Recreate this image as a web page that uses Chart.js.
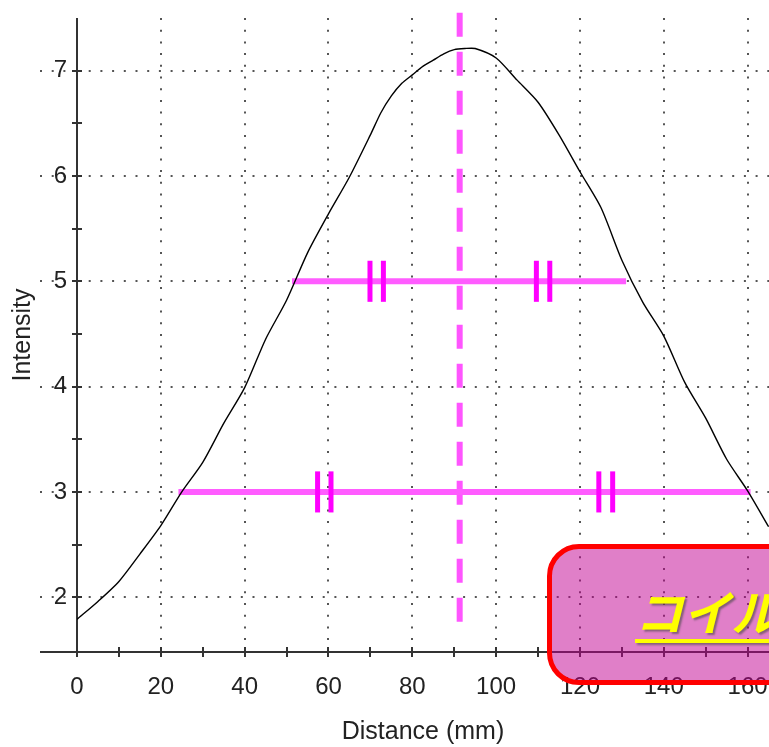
<!DOCTYPE html>
<html>
<head>
<meta charset="utf-8">
<script src="https://cdn.jsdelivr.net/npm/chart.js@4/dist/chart.umd.min.js"></script>
<style>
  html, body { margin: 0; padding: 0; background: #fff; overflow: hidden; }
  #wrap { position: relative; width: 769px; height: 747px; overflow: hidden; }
  #c { position: absolute; left: 0; top: 0; }
  #note {
    position: absolute; left: 547px; top: 544px; width: 270px; height: 141px;
    box-sizing: border-box; border: 5px solid #ff0000; border-radius: 32px;
    background: rgba(193, 0, 145, 0.5);
  }
  #note span {
    position: absolute; left: 83px; top: 37px; white-space: nowrap;
    font-family: "Noto Sans CJK JP", sans-serif; font-weight: bold; font-style: italic;
    font-size: 48px; line-height: 48px; color: #ffff00;
    text-decoration: underline; text-decoration-thickness: 4px; text-underline-offset: 8px;
    text-shadow: 2px 2px 2px rgba(70, 70, 70, 0.6);
  }
</style>
</head>
<body>
<div id="wrap">
  <canvas id="c" width="769" height="747"></canvas>
  <div id="note"><span>コイル中心</span></div>
</div>
<script>
// ---- data ----
const distance  = [0, 5, 10, 15, 20, 25, 30, 35, 40, 45, 50, 55, 60, 65, 70, 72.5, 75, 77.5, 80, 82.5, 85, 87.5, 90, 92.5, 95, 100, 105, 110, 115, 120, 125, 130, 135, 140, 145, 150, 155, 160, 165];
const intensity = [1.79, 1.96, 2.15, 2.41, 2.68, 3.00, 3.28, 3.65, 3.99, 4.45, 4.82, 5.27, 5.64, 5.99, 6.39, 6.60, 6.76, 6.88, 6.96, 7.04, 7.10, 7.16, 7.20, 7.21, 7.21, 7.12, 6.91, 6.70, 6.39, 6.04, 5.70, 5.20, 4.80, 4.48, 4.04, 3.70, 3.31, 3.01, 2.67];

const centerX = 91.3;               // dashed centre line
const centerYRange = [7.55, 1.65];

const widthLevels = [5, 3];          // intensity levels of the width bars
const widthStart  = [51.3, 24.2];
const widthEnd    = [131.0, 160.7];
const markersAt5  = [69.9, 73.1, 109.6, 112.8];
const markersAt3  = [57.4, 60.6, 124.5, 127.8];
const markerHalf  = 0.195;

const xMajorTicks = [0, 20, 40, 60, 80, 100, 120, 140, 160];
const xMinorTicks = [10, 30, 50, 70, 90, 110, 130, 150];
const yMajorTicks = [2, 3, 4, 5, 6, 7];
const yMinorTicks = [2.5, 3.5, 4.5, 5.5, 6.5];
const xRange = [0, 165.1];
const yRange = [1.48, 7.5];

// ---- datasets ----
const datasets = [];
datasets.push({
  data: distance.map((d, i) => ({ x: d, y: intensity[i] })),
  borderColor: '#000', borderWidth: 1.4, pointRadius: 0, tension: 0.25, order: 1
});
datasets.push({
  data: [{ x: centerX, y: centerYRange[0] }, { x: centerX, y: centerYRange[1] }],
  borderColor: '#ff55ff', borderWidth: 6, borderDash: [24, 15], pointRadius: 0, clip: false, order: 3
});
widthLevels.forEach((lv, i) => {
  datasets.push({
    data: [{ x: widthStart[i], y: lv }, { x: widthEnd[i], y: lv }],
    borderColor: '#ff5cff', borderWidth: 6, pointRadius: 0, order: 2
  });
});
[[5, markersAt5], [3, markersAt3]].forEach(([lv, arr]) => {
  arr.forEach(mx => {
    datasets.push({
      data: [{ x: mx, y: lv - markerHalf }, { x: mx, y: lv + markerHalf }],
      borderColor: '#ff00ff', borderWidth: 5, pointRadius: 0, order: 0
    });
  });
});

const tickFont = { family: '"Liberation Sans", Arial, sans-serif', size: 24 };
const titleFont = { family: '"Liberation Sans", Arial, sans-serif', size: 25, lineHeight: 1.2 };

const axisDecor = {
  id: 'axisDecor',
  beforeDatasetsDraw(chart) {
    const { ctx, scales: { x, y } } = chart;
    const ax = x.getPixelForValue(0);
    const ay = y.getPixelForValue(yRange[0]);
    ctx.save();
    ctx.strokeStyle = '#333';
    ctx.lineWidth = 2;
    ctx.beginPath();
    ctx.moveTo(y.left + 40, ay); ctx.lineTo(chart.chartArea.right, ay);
    ctx.moveTo(ax, chart.chartArea.top); ctx.lineTo(ax, ay);
    xMajorTicks.concat(xMinorTicks).forEach(v => {
      const p = Math.round(x.getPixelForValue(v));
      ctx.moveTo(p, ay - 5); ctx.lineTo(p, ay + 5);
    });
    yMajorTicks.concat(yMinorTicks).forEach(v => {
      const p = Math.round(y.getPixelForValue(v));
      ctx.moveTo(ax - 5, p); ctx.lineTo(ax + 5, p);
    });
    ctx.stroke();
    ctx.restore();
  }
};

new Chart(document.getElementById('c'), {
  type: 'line',
  data: { datasets },
  plugins: [axisDecor],
  options: {
    responsive: false, animation: false, devicePixelRatio: 1,
    layout: { padding: { left: 0, right: 0, top: 18, bottom: 0 } },
    plugins: { legend: { display: false }, tooltip: { enabled: false } },
    scales: {
      x: {
        type: 'linear', position: 'bottom', min: xRange[0], max: xRange[1],
        afterBuildTicks: s => { s.ticks = xMajorTicks.map(v => ({ value: v })); },
        afterFit: s => { s.height = 95; s.paddingLeft = 0; s.paddingRight = 0; },
        grid: { color: '#555', lineWidth: 2, drawTicks: false },
        border: { display: false, dash: [2, 9.7] },
        ticks: { font: tickFont, color: '#222', padding: 21, maxRotation: 0, autoSkip: false },
        title: { display: true, text: 'Distance (mm)', font: titleFont, color: '#222', padding: { top: 0, bottom: 0 } }
      },
      y: {
        type: 'linear', position: 'left', min: yRange[0], max: yRange[1],
        afterBuildTicks: s => { s.ticks = yMajorTicks.map(v => ({ value: v })); },
        afterFit: s => { s.width = 77; s.paddingTop = 0; s.paddingBottom = 0; },
        grid: { color: '#555', lineWidth: 2, drawTicks: true, tickLength: 37, tickColor: '#555', tickWidth: 2, tickBorderDash: [2, 9.7] },
        border: { display: false, dash: [2, 9.7] },
        ticks: { font: tickFont, color: '#222', padding: -27 },
        title: { display: true, text: 'Intensity', font: titleFont, color: '#222', padding: { top: 8, bottom: 0 } }
      }
    }
  }
});
</script>
</body>
</html>
